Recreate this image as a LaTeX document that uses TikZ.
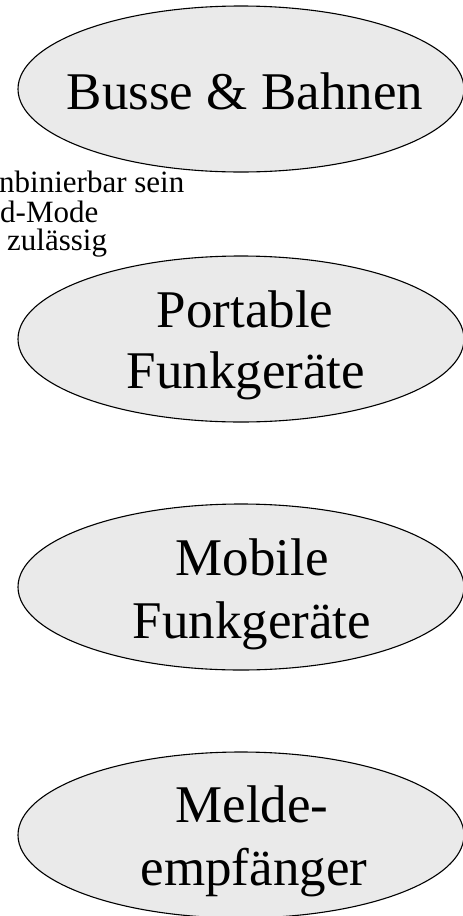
\documentclass[tikz,border=0pt]{standalone}
\usepackage{fontspec}
\setmainfont{Liberation Serif}
\usetikzlibrary{shapes.geometric}
\definecolor{ovalgray}{RGB}{234,234,234}
\begin{document}
\begin{tikzpicture}[x=1pt,y=-1pt,
  oval/.style={ellipse, draw=black, line width=1.1pt, fill=ovalgray, minimum width=446pt, minimum height=166pt, inner sep=0pt},
  big/.style={anchor=base, inner sep=0pt, font=\fontsize{53}{61}\selectfont},
  note/.style={anchor=base west, inner sep=0pt, font=\fontsize{31}{29}\selectfont}]
\useasboundingbox (0,0) rectangle (463,916);
\clip (0,0) rectangle (463,916);
\fill[white] (0,0) rectangle (463,916);
% ovals
\node[oval] (e1) at (241,89) {};
\node[oval] (e2) at (241,339) {};
\node[oval] (e3) at (241,587) {};
\node[oval] (e4) at (241,835) {};
% oval texts
\node[big] (t1) at (245,109) {Busse \& Bahnen};
\node[big] (t2a) at (245,327) {Portable};
\node[big] (t2b) at (246,388) {Funkgeräte};
\node[big] (t3a) at (252,575) {Mobile};
\node[big] (t3b) at (252,638) {Funkgeräte};
\node[big] (t4a) at (252,822) {Melde-};
\node[big] (t4b) at (254,885) {empfänger};
% cut-off notes
\node[note] (n1) at (-1,192) {nbinierbar sein};
\node[note] (n2) at (0,222) {d-Mode};
\node[note] (n3) at (7,250) {zulässig};
\end{tikzpicture}
\end{document}
